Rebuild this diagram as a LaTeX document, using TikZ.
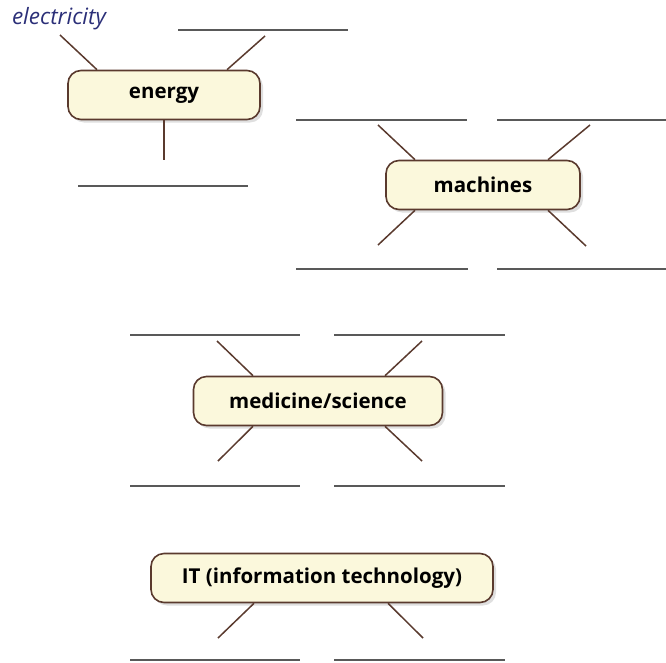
\documentclass[tikz,border=0pt]{standalone}
\usepackage{fontspec}
\setmainfont{Open Sans}
\usepackage{xcolor}
\usetikzlibrary{shadows}

\definecolor{boxfill}{HTML}{FBF8DC}
\definecolor{boxline}{HTML}{5A3A2E}
\definecolor{inkblue}{HTML}{2B2F78}

\begin{document}
\begin{tikzpicture}[x=1pt,y=-1pt,font=\fontsize{20.5}{22}\selectfont,
    topic/.style={draw=boxline,line width=1.6pt,fill=boxfill,rounded corners=13pt,
      minimum height=49pt,font=\fontsize{20.5}{22}\selectfont\bfseries,
      drop shadow={opacity=0.25,shadow xshift=3pt,shadow yshift=-3pt}},
    spoke/.style={draw=boxline,line width=1.5pt},
    blank/.style={draw=black!65,line width=1.3pt}]
    \useasboundingbox (0,0) rectangle (666,662);

    % energy
    \node[topic,minimum width=192pt] (energy) at (164,95) {energy};
    \node[text=inkblue,font=\fontsize{22.5}{24}\selectfont\itshape] (elec) at (59,19) {electricity};
    \coordinate (e1) at (60,35);
    \coordinate (e2) at (265,36);
    \coordinate (e3) at (164,160);
    \coordinate (la) at (178,30); \coordinate (lb) at (348,30);
    \coordinate (lc) at (78,186); \coordinate (ld) at (248,186);
    \draw[blank] (la) -- (lb);
    \draw[blank] (lc) -- (ld);
    \draw[spoke] (e1) -- ([xshift=-67pt]energy.north);
    \draw[spoke] (e2) -- ([xshift=63pt]energy.north);
    \draw[spoke] (energy.south) -- (e3);

    % machines
    \node[topic,minimum width=194pt] (mach) at (483,185) {machines};
    \coordinate (m1) at (378,125); \coordinate (m2) at (590,125);
    \coordinate (m3) at (378,245); \coordinate (m4) at (586,246);
    \coordinate (ma) at (296,120); \coordinate (mb) at (467,120);
    \coordinate (mc) at (497,120); \coordinate (md) at (666,120);
    \coordinate (me) at (296,269); \coordinate (mf) at (468,269);
    \coordinate (mg) at (497,269); \coordinate (mh) at (666,269);
    \draw[blank] (ma) -- (mb);
    \draw[blank] (mc) -- (md);
    \draw[blank] (me) -- (mf);
    \draw[blank] (mg) -- (mh);
    \draw[spoke] (m1) -- ([xshift=-68pt]mach.north);
    \draw[spoke] (m2) -- ([xshift=65pt]mach.north);
    \draw[spoke] (m3) -- ([xshift=-68pt]mach.south);
    \draw[spoke] (m4) -- ([xshift=65pt]mach.south);

    % medicine/science
    \node[topic,minimum width=249pt] (med) at (318,401) {medicine/science};
    \coordinate (s1) at (217,341); \coordinate (s2) at (422,341);
    \coordinate (s3) at (218,461); \coordinate (s4) at (422,461);
    \coordinate (sa) at (130,335); \coordinate (sb) at (300,335);
    \coordinate (sc) at (334,335); \coordinate (sd) at (505,335);
    \coordinate (se) at (130,486); \coordinate (sf) at (300,486);
    \coordinate (sg) at (334,486); \coordinate (sh) at (505,486);
    \draw[blank] (sa) -- (sb);
    \draw[blank] (sc) -- (sd);
    \draw[blank] (se) -- (sf);
    \draw[blank] (sg) -- (sh);
    \draw[spoke] (s1) -- ([xshift=-65pt]med.north);
    \draw[spoke] (s2) -- ([xshift=67pt]med.north);
    \draw[spoke] (s3) -- ([xshift=-65pt]med.south);
    \draw[spoke] (s4) -- ([xshift=67pt]med.south);

    % IT
    \node[topic,minimum width=342pt] (it) at (322,578) {IT (information technology)};
    \coordinate (t1) at (218,638); \coordinate (t2) at (423,638);
    \coordinate (ta) at (130,660); \coordinate (tb) at (300,660);
    \coordinate (tc) at (334,660); \coordinate (td) at (505,660);
    \draw[blank] (ta) -- (tb);
    \draw[blank] (tc) -- (td);
    \draw[spoke] (t1) -- ([xshift=-68pt]it.south);
    \draw[spoke] (t2) -- ([xshift=66pt]it.south);
\end{tikzpicture}
\end{document}
